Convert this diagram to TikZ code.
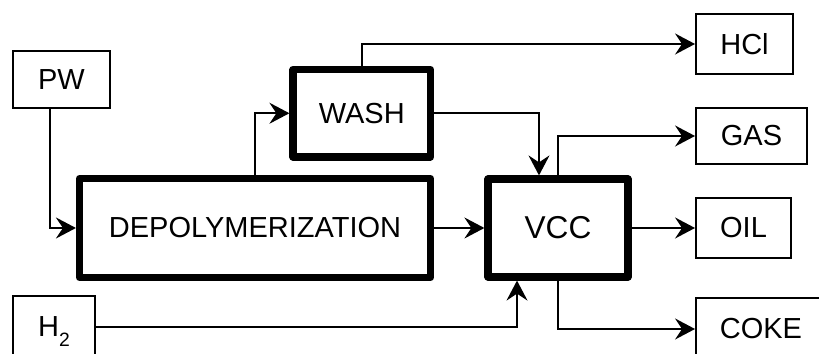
\documentclass[tikz,border=0pt]{standalone}
\usepackage{fontspec}
\setmainfont{Liberation Sans}
\usepackage{tikz}
\usetikzlibrary{arrows.meta}

\begin{document}
\begin{tikzpicture}[x=0.02cm,y=-0.02cm,box/.style={draw,line width=1.1pt,align=center,inner sep=0pt,font=\fontsize{16.5}{19.8}\selectfont},unit/.style={box,line width=4.1pt,line join=round},arr/.style={line width=1.1pt,-{Stealth[length=4mm,width=4.2mm,inset=1.4mm]}}]
\useasboundingbox (0,0) rectangle (819,354);
\node[box,minimum width=1.94cm,minimum height=1.14cm] (pw) at (61.5,79.5) {PW};
\node[box,minimum width=1.64cm,minimum height=1.24cm] (h2) at (54,327) {H\raisebox{-0.2cm}[0pt][0pt]{\fontsize{11}{11}\selectfont 2}};
\node[unit,minimum width=7.02cm,minimum height=1.98cm] (depo) at (255,228) {DEPOLYMERIZATION};
\node[unit,minimum width=2.75cm,minimum height=1.75cm] (wash) at (361.75,113.25) {WASH};
\node[unit,minimum width=2.8cm,minimum height=1.96cm,font=\fontsize{18}{21.6}\selectfont] (vcc) at (558,228) {VCC};
\node[box,minimum width=1.94cm,minimum height=1.2cm] (hcl) at (744.5,44) {HCl};
\node[box,minimum width=2.22cm,minimum height=1.12cm] (gas) at (751.5,136) {GAS};
\node[box,minimum width=1.9cm,minimum height=1.2cm] (oil) at (743.5,228) {OIL};
\node[box,minimum width=2.6cm,minimum height=1.24cm] (coke) at (761,329) {COKE};
\draw[arr] ([xshift=-0.23cm]pw.south) |- (depo.west);
\draw[arr] (depo.north) |- (wash.west);
\draw[arr] (wash.north) |- (hcl.west);
\draw[arr] (wash.east) -| ([xshift=-0.38cm]vcc.north);
\draw[arr] (depo.east) -- (vcc.west);
\draw[arr] (h2.east) -| ([xshift=-0.82cm]vcc.south);
\draw[arr] (vcc.north) |- (gas.west);
\draw[arr] (vcc.east) -- (oil.west);
\draw[arr] (vcc.south) |- (coke.west);
\end{tikzpicture}
\end{document}
